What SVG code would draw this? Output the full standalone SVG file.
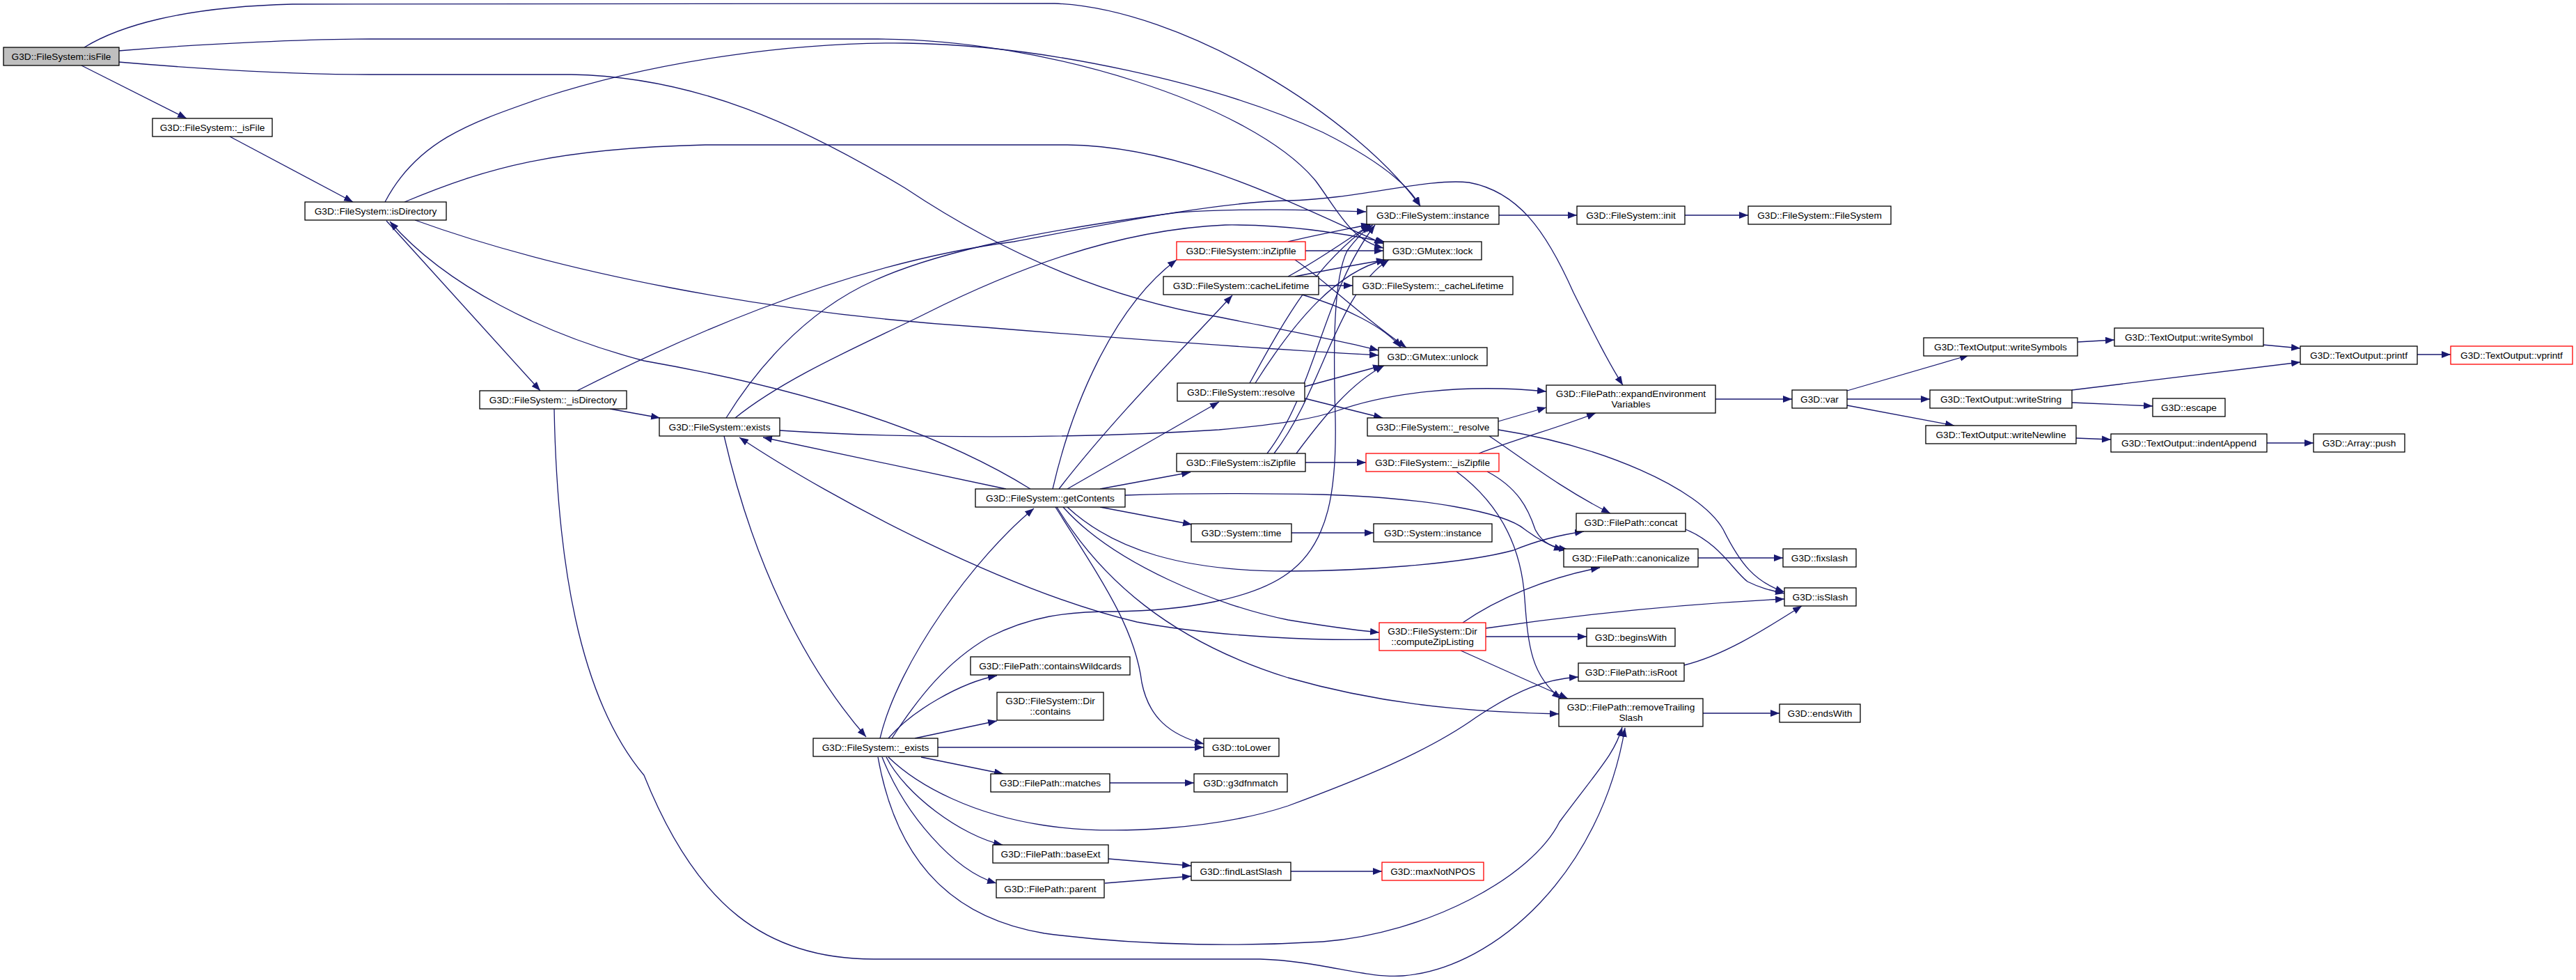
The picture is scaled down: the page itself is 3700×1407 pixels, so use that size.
<svg xmlns="http://www.w3.org/2000/svg" width="3700" height="1407" viewBox="0 0 3700 1407">
<defs>
<marker id="a" markerUnits="userSpaceOnUse" markerWidth="14" markerHeight="11" refX="13" refY="5" orient="auto"><path d="M0,0 L13,5 L0,10 z" fill="#191970"/></marker>
<style>
.n rect{fill:#fff;stroke:#000;stroke-width:1.3}
.n.r rect{stroke:#ff0000}
.n.g rect{fill:#bfbfbf}
.n text{font-family:"Liberation Sans",Arial,sans-serif;font-size:13.7px;fill:#000;text-anchor:middle}
.e path{fill:none;stroke:#191970;stroke-width:1.3;marker-end:url(#a)}
</style>
</defs>
<rect width="3700" height="1407" fill="#fff"/>
<g id="edges" class="e">
<path d="M121,68 C170,38 260,10 420,6 L1515,5 C1700,12 1950,170 2040,296"/>
<path d="M170,73 C300,62 450,56 531,56 L1261,56 C1500,56 1800,150 1890,260 C1920,300 1940,345 1987,356"/>
<path d="M170,89 C300,100 420,107 531,107 L820,107 C1000,110 1150,180 1300,270 C1450,370 1600,430 1750,455 C1850,475 1930,490 1980,503"/>
<path d="M117,94 L268,170"/>
<path d="M330,196 L507,290"/>
<path d="M553,290 C600,200 680,175 780,140 C950,85 1150,60 1303,62 C1500,65 1750,120 1900,190 C1970,225 2020,260 2040,296"/>
<path d="M581,290 C700,240 800,213 1013,208 L1533,208 C1700,210 1850,290 1987,350"/>
<path d="M596,316 C800,390 1100,450 1415,470 C1600,485 1800,500 1980,510"/>
<path d="M555,317 L776,561"/>
<path d="M1480,702 C1300,590 1050,540 925,518 C780,480 640,410 560,318"/>
<path d="M876,587 L948,600"/>
<path d="M796,587 C800,800 830,1000 925,1113 C1000,1300 1100,1377 1255,1377 L1810,1377 C1900,1380 1960,1405 2015,1401 C2150,1390 2300,1250 2334,1045"/>
<path d="M829,561 C950,500 1200,380 1456,347 C1600,320 1750,290 1850,288 C1950,286 2050,255 2110,262 C2180,275 2220,330 2260,420 C2290,480 2310,520 2331,553"/>
<path d="M1043,600 C1080,540 1150,450 1255,403 C1350,360 1500,330 1692,305 C1800,298 1900,302 1962,304"/>
<path d="M1056,600 C1130,540 1250,490 1330,450 C1450,390 1600,330 1760,323 C1850,322 1930,335 1990,348"/>
<path d="M1120,618 C1300,630 1550,630 1751,617 C1850,608 1890,600 1920,590 C1990,565 2100,550 2221,562"/>
<path d="M1445,702 L1096,628"/>
<path d="M1040,626 C1080,800 1150,950 1244,1058"/>
<path d="M1264,1060 C1290,950 1400,800 1485,730"/>
<path d="M1281,1060 C1320,1000 1360,950 1420,915 C1480,885 1530,878 1600,878 C1700,877 1800,860 1850,823 C1910,780 1920,700 1918,600 C1915,500 1915,400 1935,360 C1950,340 1960,330 1972,323"/>
<path d="M1512,702 C1540,580 1600,440 1690,373"/>
<path d="M1521,702 C1600,600 1700,500 1770,424"/>
<path d="M1533,702 L1751,577"/>
<path d="M1580,702 L1710,678"/>
<path d="M1580,728 L1712,753"/>
<path d="M1855,765 L1973,765"/>
<path d="M1616,711 C1700,708 1800,708 1900,710 C2050,715 2160,735 2190,760 C2210,775 2225,783 2245,790"/>
<path d="M1533,728 C1600,790 1700,820 1850,820 C1950,820 2100,810 2174,790 C2210,775 2240,768 2275,763"/>
<path d="M1527,728 C1600,810 1750,870 1850,890 C1910,900 1950,905 1981,908"/>
<path d="M1518,728 C1580,830 1680,920 1850,973 C1980,1010 2100,1022 2239,1025"/>
<path d="M1516,728 C1580,830 1630,900 1640,980 C1650,1030 1680,1055 1729,1068"/>
<path d="M1981,918 C1900,920 1750,915 1633,893 C1450,850 1200,720 1062,628"/>
<path d="M2101,894 C2150,860 2220,830 2298,815"/>
<path d="M2134,902 C2250,885 2400,868 2563,860"/>
<path d="M2134,914 L2279,914"/>
<path d="M2098,934 L2252,1003"/>
<path d="M2419,955 C2480,940 2540,900 2588,870"/>
<path d="M2124,651 C2180,630 2250,610 2292,593"/>
<path d="M2136,677 C2180,700 2195,730 2205,760 C2215,780 2230,786 2252,789"/>
<path d="M2092,677 C2150,720 2185,780 2190,860 C2195,930 2200,970 2242,1003"/>
<path d="M1875,664 L1962,664"/>
<path d="M1795,550 C1850,450 1890,380 1968,323"/>
<path d="M1803,550 C1860,460 1920,390 1990,373"/>
<path d="M1820,651 C1890,560 1900,420 1975,323"/>
<path d="M1830,651 C1900,560 1920,420 1995,373"/>
<path d="M1862,651 C1900,600 1940,550 1988,525"/>
<path d="M1874,555 L1985,525"/>
<path d="M1874,572 L1986,600"/>
<path d="M1894,410 L1943,410"/>
<path d="M1850,397 C1900,370 1940,340 1968,323"/>
<path d="M1860,397 C1920,385 1960,378 1990,373"/>
<path d="M1870,423 C1930,440 1990,470 2012,499"/>
<path d="M1850,347 C1900,335 1940,328 1968,322"/>
<path d="M1875,360 L1987,360"/>
<path d="M1860,373 C1900,400 1950,450 2020,499"/>
<path d="M2152,605 L2221,585"/>
<path d="M2139,626 C2190,660 2240,700 2313,737"/>
<path d="M2152,617 C2300,640 2440,700 2475,760 C2500,810 2520,835 2563,850"/>
<path d="M2421,760 C2470,780 2490,820 2510,835 C2530,845 2545,848 2563,852"/>
<path d="M2439,801 L2561,801"/>
<path d="M2464,573 L2574,573"/>
<path d="M2653,561 L2828,510"/>
<path d="M2653,573 L2772,573"/>
<path d="M2653,582 L2807,611"/>
<path d="M2984,491 L3037,488"/>
<path d="M3250,495 L3304,500"/>
<path d="M2976,560 L3304,520"/>
<path d="M2976,578 L3092,583"/>
<path d="M3472,509 L3520,509"/>
<path d="M2982,629 L3032,631"/>
<path d="M3256,636 L3323,636"/>
<path d="M2153,309 L2265,309"/>
<path d="M2420,309 L2511,309"/>
<path d="M1276,1060 C1310,1020 1380,980 1432,970"/>
<path d="M1314,1060 L1432,1035"/>
<path d="M1347,1073 L1729,1073"/>
<path d="M1323,1087 L1441,1111"/>
<path d="M1273,1087 C1300,1140 1380,1200 1440,1213"/>
<path d="M1267,1087 C1300,1170 1370,1250 1431,1268"/>
<path d="M1276,1087 C1320,1130 1400,1170 1500,1185 C1600,1200 1750,1190 1850,1157 C1950,1120 2050,1080 2120,1030 C2180,990 2220,975 2267,972"/>
<path d="M1261,1087 C1290,1250 1380,1320 1500,1340 C1650,1360 1800,1358 1900,1352 C2050,1340 2200,1260 2240,1180 C2300,1100 2320,1080 2330,1044"/>
<path d="M1594,1124 L1715,1124"/>
<path d="M1592,1233 L1711,1243"/>
<path d="M1587,1268 L1711,1258"/>
<path d="M1854,1251 L1985,1251"/>
<path d="M2446,1024 L2556,1024"/>
</g>
<g id="isFile" class="n g"><rect x="5" y="68" width="166" height="26"/><text x="88" y="85.5">G3D::FileSystem::isFile</text></g>
<g id="_isFile" class="n"><rect x="219" y="170" width="172" height="26"/><text x="305" y="187.5">G3D::FileSystem::_isFile</text></g>
<g id="isDirectory" class="n"><rect x="438" y="290" width="203" height="26"/><text x="539.5" y="307.5">G3D::FileSystem::isDirectory</text></g>
<g id="_isDirectory" class="n"><rect x="689" y="561" width="211" height="26"/><text x="794.5" y="578.5">G3D::FileSystem::_isDirectory</text></g>
<g id="exists" class="n"><rect x="947" y="600" width="173" height="26"/><text x="1033.5" y="617.5">G3D::FileSystem::exists</text></g>
<g id="getContents" class="n"><rect x="1401" y="702" width="215" height="26"/><text x="1508.5" y="719.5">G3D::FileSystem::getContents</text></g>
<g id="inZipfile" class="n r"><rect x="1690" y="347" width="185" height="26"/><text x="1782.5" y="364.5">G3D::FileSystem::inZipfile</text></g>
<g id="cacheLifetime" class="n"><rect x="1671" y="397" width="223" height="26"/><text x="1782.5" y="414.5">G3D::FileSystem::cacheLifetime</text></g>
<g id="resolve" class="n"><rect x="1691" y="550" width="183" height="26"/><text x="1782.5" y="567.5">G3D::FileSystem::resolve</text></g>
<g id="isZipfile" class="n"><rect x="1690" y="651" width="185" height="26"/><text x="1782.5" y="668.5">G3D::FileSystem::isZipfile</text></g>
<g id="SystemTime" class="n"><rect x="1711" y="752" width="144" height="26"/><text x="1783" y="769.5">G3D::System::time</text></g>
<g id="computeZipListing" class="n r"><rect x="1981" y="894" width="153" height="40"/><text x="2057.5" y="910.5">G3D::FileSystem::Dir</text><text x="2057.5" y="926">::computeZipListing</text></g>
<g id="instance" class="n"><rect x="1963" y="296" width="190" height="26"/><text x="2058" y="313.5">G3D::FileSystem::instance</text></g>
<g id="init" class="n"><rect x="2265" y="296" width="155" height="26"/><text x="2342.5" y="313.5">G3D::FileSystem::init</text></g>
<g id="FileSystemCtor" class="n"><rect x="2511" y="296" width="205" height="26"/><text x="2613.5" y="313.5">G3D::FileSystem::FileSystem</text></g>
<g id="lock" class="n"><rect x="1987" y="347" width="141" height="26"/><text x="2057.5" y="364.5">G3D::GMutex::lock</text></g>
<g id="_cacheLifetime" class="n"><rect x="1943" y="397" width="230" height="26"/><text x="2058" y="414.5">G3D::FileSystem::_cacheLifetime</text></g>
<g id="unlock" class="n"><rect x="1980" y="499" width="156" height="26"/><text x="2058" y="516.5">G3D::GMutex::unlock</text></g>
<g id="_resolve" class="n"><rect x="1964" y="600" width="188" height="26"/><text x="2058" y="617.5">G3D::FileSystem::_resolve</text></g>
<g id="_isZipfile" class="n r"><rect x="1962" y="651" width="191" height="26"/><text x="2057.5" y="668.5">G3D::FileSystem::_isZipfile</text></g>
<g id="SystemInstance" class="n"><rect x="1973" y="752" width="170" height="26"/><text x="2058" y="769.5">G3D::System::instance</text></g>
<g id="expandEnvironmentVariables" class="n"><rect x="2221" y="553" width="243" height="40"/><text x="2342.5" y="569.5">G3D::FilePath::expandEnvironment</text><text x="2342.5" y="585">Variables</text></g>
<g id="concat" class="n"><rect x="2264" y="737" width="157" height="26"/><text x="2342.5" y="754.5">G3D::FilePath::concat</text></g>
<g id="canonicalize" class="n"><rect x="2246" y="788" width="193" height="26"/><text x="2342.5" y="805.5">G3D::FilePath::canonicalize</text></g>
<g id="fixslash" class="n"><rect x="2561" y="788" width="105" height="26"/><text x="2613.5" y="805.5">G3D::fixslash</text></g>
<g id="isSlash" class="n"><rect x="2563" y="844" width="103" height="26"/><text x="2614.5" y="861.5">G3D::isSlash</text></g>
<g id="beginsWith" class="n"><rect x="2279" y="902" width="127" height="26"/><text x="2342.5" y="919.5">G3D::beginsWith</text></g>
<g id="var" class="n"><rect x="2574" y="560" width="79" height="26"/><text x="2613.5" y="577.5">G3D::var</text></g>
<g id="writeSymbols" class="n"><rect x="2763" y="485" width="221" height="26"/><text x="2873.5" y="502.5">G3D::TextOutput::writeSymbols</text></g>
<g id="writeSymbol" class="n"><rect x="3037" y="471" width="214" height="26"/><text x="3144" y="488.5">G3D::TextOutput::writeSymbol</text></g>
<g id="printf" class="n"><rect x="3304" y="497" width="168" height="26"/><text x="3388" y="514.5">G3D::TextOutput::printf</text></g>
<g id="vprintf" class="n r"><rect x="3520" y="497" width="175" height="26"/><text x="3607.5" y="514.5">G3D::TextOutput::vprintf</text></g>
<g id="writeString" class="n"><rect x="2772" y="560" width="204" height="26"/><text x="2874" y="577.5">G3D::TextOutput::writeString</text></g>
<g id="escape" class="n"><rect x="3092" y="572" width="104" height="26"/><text x="3144" y="589.5">G3D::escape</text></g>
<g id="writeNewline" class="n"><rect x="2766" y="611" width="216" height="26"/><text x="2874" y="628.5">G3D::TextOutput::writeNewline</text></g>
<g id="indentAppend" class="n"><rect x="3032" y="623" width="224" height="26"/><text x="3144" y="640.5">G3D::TextOutput::indentAppend</text></g>
<g id="push" class="n"><rect x="3323" y="623" width="131" height="26"/><text x="3388.5" y="640.5">G3D::Array::push</text></g>
<g id="containsWildcards" class="n"><rect x="1394" y="943" width="229" height="26"/><text x="1508.5" y="960.5">G3D::FilePath::containsWildcards</text></g>
<g id="DirContains" class="n"><rect x="1432" y="994" width="153" height="40"/><text x="1508.5" y="1010.5">G3D::FileSystem::Dir</text><text x="1508.5" y="1026">::contains</text></g>
<g id="_exists" class="n"><rect x="1168" y="1060" width="179" height="26"/><text x="1257.5" y="1077.5">G3D::FileSystem::_exists</text></g>
<g id="toLower" class="n"><rect x="1729" y="1060" width="108" height="26"/><text x="1783" y="1077.5">G3D::toLower</text></g>
<g id="matches" class="n"><rect x="1423" y="1111" width="171" height="26"/><text x="1508.5" y="1128.5">G3D::FilePath::matches</text></g>
<g id="g3dfnmatch" class="n"><rect x="1715" y="1111" width="134" height="26"/><text x="1782" y="1128.5">G3D::g3dfnmatch</text></g>
<g id="baseExt" class="n"><rect x="1426" y="1213" width="166" height="26"/><text x="1509" y="1230.5">G3D::FilePath::baseExt</text></g>
<g id="findLastSlash" class="n"><rect x="1711" y="1238" width="143" height="26"/><text x="1782.5" y="1255.5">G3D::findLastSlash</text></g>
<g id="parent" class="n"><rect x="1431" y="1263" width="155" height="26"/><text x="1508.5" y="1280.5">G3D::FilePath::parent</text></g>
<g id="isRoot" class="n"><rect x="2267" y="952" width="152" height="26"/><text x="2343" y="969.5">G3D::FilePath::isRoot</text></g>
<g id="removeTrailingSlash" class="n"><rect x="2239" y="1003" width="207" height="40"/><text x="2342.5" y="1019.5">G3D::FilePath::removeTrailing</text><text x="2342.5" y="1035">Slash</text></g>
<g id="endsWith" class="n"><rect x="2556" y="1011" width="116" height="26"/><text x="2614" y="1028.5">G3D::endsWith</text></g>
<g id="maxNotNPOS" class="n r"><rect x="1985" y="1238" width="146" height="26"/><text x="2058" y="1255.5">G3D::maxNotNPOS</text></g>
</svg>
